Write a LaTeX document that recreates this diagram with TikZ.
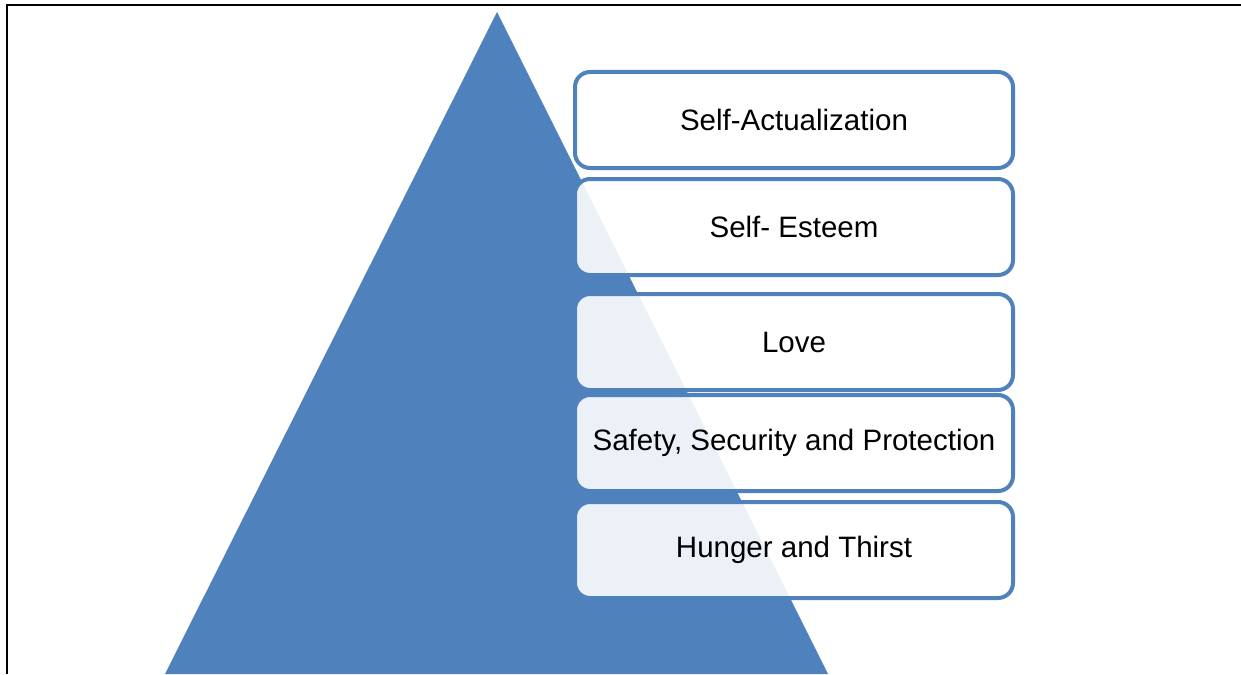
\documentclass[tikz,border=0pt]{standalone}
\usepackage{fontspec}
\setmainfont{Liberation Sans}
\definecolor{pyrblue}{HTML}{4F81BD}
\begin{document}
\begin{tikzpicture}[x=1pt,y=-1pt,
  level/.style={draw=pyrblue, line width=4pt, rounded corners=15pt,
    fill=white, fill opacity=0.89, draw opacity=1, text opacity=1,
    minimum width=438pt, minimum height=96pt, inner sep=0pt,
    font=\fontsize{29.5}{34}\selectfont, text=black}]
  \useasboundingbox (0,0) rectangle (1241,674);
  % page frame
  \draw[line width=1.5pt, black] (1241,5) -- (7,5) -- (7,674);
  % pyramid
  \begin{scope}
    \clip (0,0) rectangle (1241,674);
    \fill[pyrblue] (497,12) -- (165,674) -- (828,674) -- cycle;
  \end{scope}
  % levels, top to bottom
  \node[level] (selfact) at (794,120) {Self-Actualization};
  \node[level] (esteem)  at (794,227) {Self- Esteem};
  \node[level] (love)    at (794,342) {Love};
  \node[level] (safety)  at (794,443) {Safety, Security and Protection};
  \node[level] (hunger)  at (794,550) {Hunger and Thirst};
\end{tikzpicture}
\end{document}
